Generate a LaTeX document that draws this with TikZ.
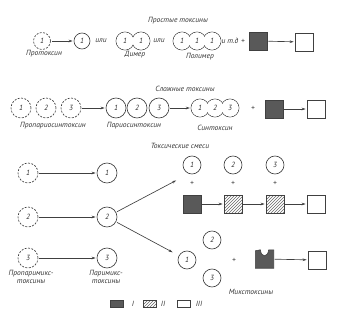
\documentclass[tikz,border=0pt]{standalone}
\usepackage{fontspec}
\setmainfont{PT Sans}
\usetikzlibrary{arrows.meta,patterns,backgrounds}

\tikzset{
  ink/.style={draw=black!75, line width=0.65pt},
  tox/.style={circle, ink, minimum size=18pt, inner sep=0pt,
    font=\fontsize{7.5}{8}\selectfont\itshape, text=black!80},
  big/.style={minimum size=20pt},
  protox/.style={tox, dash pattern=on 2pt off 1.4pt},
  blob/.style={circle, minimum size=18pt, inner sep=0pt,
    font=\fontsize{7.5}{8}\selectfont\itshape, text=black!80},
  txt/.style={font=\fontsize{7.5}{8.5}\selectfont\itshape, text=black!80, inner sep=0.5pt},
  sq/.style={rectangle, ink, minimum size=18pt, inner sep=0pt},
  full/.style={sq, fill=black!65},
  hatch/.style={sq, pattern=north east lines, pattern color=black!60},
  key/.style={rectangle, ink, minimum width=13pt, minimum height=7pt, inner sep=0pt},
  arr/.style={ink, -{Stealth[length=4pt,width=2.6pt]}, shorten >=1pt, shorten <=1pt},
}

\begin{document}
\begin{tikzpicture}[x=1pt,y=-1pt]
	\useasboundingbox (0,0) rectangle (344,313);

	% Простые токсины
	\node[txt] (t1) at (178,21) {Простые токсины};
	\node[protox, minimum size=17pt] (a0) at (42,41) {1};
	\node[txt] (a0l) at (44,54) {Протоксин};
	\node[tox, minimum size=16pt] (a1) at (82,41) {1};
	\draw[arr] (a0) -- (a1);
	\node[txt] (or1) at (101,41) {или};
	\node[blob] (b1) at (125,41) {1};
	\node[blob] (b2) at (141,41) {1};
	\node[txt] (b0l) at (135,55) {Димер};
	\node[txt] (or2) at (159,41) {или};
	\node[blob] (c1) at (182,41) {1};
	\node[blob] (c2) at (197,41) {1};
	\node[blob] (c3) at (212,41) {1};
	\node[txt] (c0l) at (200,57) {Полимер};
	\node[txt] (etc) at (230,41) {и т.д};
	\node[txt] (pl1) at (243,41) {+};
	\node[full] (k1) at (258,41) {};
	\node[sq] (e1) at (304,42) {};
	\draw[arr] (k1) -- (e1);

	% Сложные токсины
	\node[txt] (t2) at (185,89) {Сложные токсины};
	\node[protox, big] (q1) at (21,108) {1};
	\node[protox, big] (q2) at (46,108) {2};
	\node[protox, big] (q3) at (71,108) {3};
	\node[txt] (ql) at (53,126) {Пропариосинтоксин};
	\node[tox, big] (r1) at (116,108) {1};
	\node[tox, big] (r2) at (137,108) {2};
	\node[tox, big] (r3) at (159,108) {3};
	\node[txt] (rl) at (134,126) {Париосинтоксин};
	\draw[arr] (q3) -- (r1);
	\node[blob] (s1) at (200,108) {1};
	\node[blob] (s2) at (215,108) {2};
	\node[blob] (s3) at (230,108) {3};
	\node[txt] (sl) at (215,128) {Синтоксин};
	\draw[arr] (r3) -- (s1);
	\node[txt] (pl2) at (253,108) {+};
	\node[full] (k2) at (274,109) {};
	\node[sq] (e2) at (316,109) {};
	\draw[arr] (k2) -- (e2);

	% Токсические смеси
	\node[txt] (t3) at (180,146) {Токсические смеси};
	\foreach \i/\y in {1/173,2/217,3/258} {
		\node[protox, big] (m\i) at (28,\y) {\i};
		\node[tox, big] (n\i) at (107,\y) {\i};
		\draw[arr] (m\i) -- (n\i);
	}
	\node[txt, align=center] (ml) at (31,277) {Пропаримикс-\\токсины};
	\node[txt, align=center] (nl) at (106,277) {Паримикс-\\токсины};

	\foreach \i/\x in {1/192,2/233,3/275} {
		\node[tox] (u\i) at (\x,165) {\i};
		\node[txt] (up\i) at (\x,183) {+};
	}
	\node[full] (f1) at (192,204) {};
	\node[hatch] (f2) at (233,204) {};
	\node[hatch] (f3) at (275,204) {};
	\node[sq] (f4) at (316,204) {};
	\draw[arr] (f1) -- (f2);
	\draw[arr] (f2) -- (f3);
	\draw[arr] (f3) -- (f4);

	\coordinate (jt) at (177,180);
	\draw[arr] (n2) -- (jt);

	\node[tox] (v2) at (212,240) {2};
	\node[tox] (v1) at (187,260) {1};
	\node[tox] (v3) at (212,278) {3};
	\draw[arr, shorten >=7pt] (n2) -- (v1);
	\node[txt] (pl3) at (234,260) {+};
	\node[minimum size=18pt, inner sep=0pt] (mx) at (264.5,259) {};
	\node[sq] (w2) at (317,260) {};
	\draw[arr] (mx) -- (w2);
	\node[txt] (vl) at (251,292) {Микстоксины};

	% легенда
	\node[key, fill=black!65] (g1) at (117,304) {};
	\node[txt] (g1l) at (133,304) {I};
	\node[key, pattern=north east lines, pattern color=black!60] (g2) at (150,304) {};
	\node[txt] (g2l) at (163,304) {II};
	\node[key] (g3) at (184,304) {};
	\node[txt] (g3l) at (199,304) {III};

	\begin{scope}[on background layer]
		\foreach \n in {b1,b2,c1,c2,c3,s1,s2,s3}
			\draw[ink] (\n.center) circle (9pt);
		\foreach \n in {b1,b2,c1,c2,c3,s1,s2,s3}
			\fill[white] (\n.center) circle (8.6pt);
		% микстоксин
		\fill[black!65, draw=black!75, line width=0.6pt]
			(mx.south west) -- ([yshift=-1pt]mx.north west) -- ([xshift=5pt]mx.north west)
			.. controls ([xshift=6pt,yshift=-8pt]mx.north west) and ([xshift=-6pt,yshift=-8pt]mx.north east) ..
			([xshift=-5pt]mx.north east) -- (mx.north east) -- (mx.south east) -- cycle;
	\end{scope}

\end{tikzpicture}
\end{document}
